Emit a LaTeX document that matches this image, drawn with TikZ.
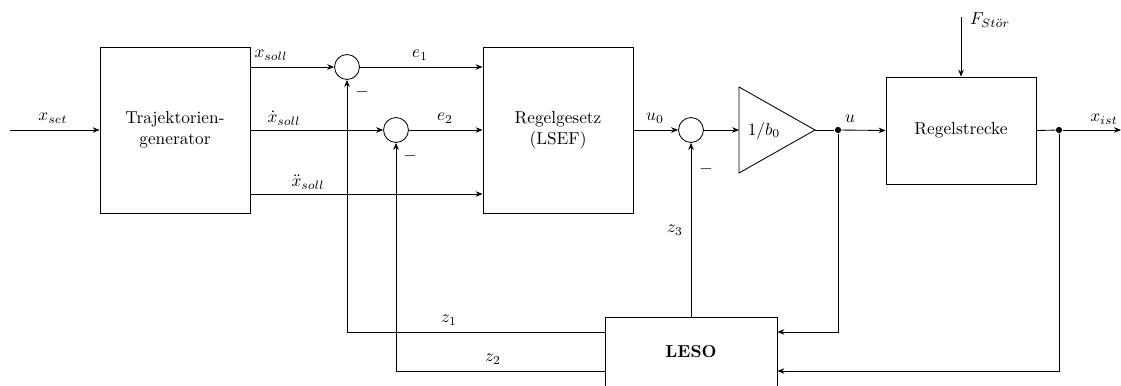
\documentclass[tikz,border=0pt]{standalone}
\usetikzlibrary{arrows.meta,calc}
\begin{document}
\begin{tikzpicture}[x=0.578pt,y=-0.578pt,line width=0.5pt,
  blk/.style={draw,rectangle,align=center,inner sep=0pt},
  sumc/.style={draw,circle,minimum size=14.4pt,inner sep=0pt},
  arr/.style={-{Stealth[length=4pt,width=3.2pt]}},
  lbl/.style={inner sep=0pt},
  jdot/.style={circle,fill,inner sep=0pt,minimum size=3.6pt}]
\useasboundingbox (0,0) rectangle (1121,385);
% blocks
\node[blk,minimum width=86.7pt,minimum height=96pt] (traj) at (175,130) {Trajektorien-\\generator};
\node[blk,minimum width=86.7pt,minimum height=96pt] (reg) at (558,130) {Regelgesetz\\(LSEF)};
\node[blk,minimum width=86.7pt,minimum height=61.8pt] (str) at (961,130.5) {Regelstrecke};
\node[blk,minimum width=99.4pt,minimum height=40.5pt] (leso) at (691,352) {\textbf{LESO}};
\node[sumc] (c1) at (347,67) {};
\node[sumc] (c2) at (396,130) {};
\node[sumc] (c3) at (691,130) {};
% gain triangle
\draw (739,87) -- (815,130) -- (739,173) -- cycle;
\node[lbl] (gain) at (764,131) {$1/b_0$};
\coordinate (gin) at (739,130);
\coordinate (gout) at (815,130);
\node[jdot] (d1) at (838,130) {};
\node[jdot] (d2) at (1059,130) {};
\coordinate (xin) at (10,130);
\coordinate (xout) at (1121,130);
\coordinate (fin) at (961,17);
\coordinate (dd) at (0,194);
\coordinate (y1) at (0,332);
\coordinate (y2) at (0,371);
% connectors
\draw[arr] (xin) -- (traj.west);
\draw[arr] (traj.east |- c1) -- (c1.west);
\draw[arr] (traj.east |- c2) -- (c2.west);
\draw[arr] (traj.east |- dd) -- (reg.west |- dd);
\draw[arr] (c1.east) -- (reg.west |- c1);
\draw[arr] (c2.east) -- (reg.west |- c2);
\draw[arr] (reg.east) -- (c3.west);
\draw[arr] (c3.east) -- (gin);
\draw (gout) -- (d1);
\draw[arr] (d1) -- (str.west);
\draw (str.east) -- (d2);
\draw[arr] (d2) -- (xout);
\draw[arr] (fin) -- (str.north);
\draw[arr] (d1) |- (leso.east |- y1);
\draw[arr] (d2) |- (leso.east |- y2);
\draw[arr] (leso.west |- y1) -| (c1.south);
\draw[arr] (leso.west |- y2) -| (c2.south);
\draw[arr] (leso.north) -- (c3.south);
% labels
\node[lbl] at (53,118) {$x_{set}$};
\node[lbl] at (271,55) {$x_{soll}$};
\node[lbl] at (284,118) {$\dot{x}_{soll}$};
\node[lbl] at (308,182) {$\ddot{x}_{soll}$};
\node[lbl] at (420,55) {$e_1$};
\node[lbl] at (445,118) {$e_2$};
\node[lbl] at (362,92) {$-$};
\node[lbl] at (410,156) {$-$};
\node[lbl] at (706,169) {$-$};
\node[lbl] at (655,118) {$u_0$};
\node[lbl] at (850,119) {$u$};
\node[lbl] at (1104,119) {$x_{ist}$};
\node[lbl] at (990,20) {$F_{St\ddot{o}r}$};
\node[lbl] at (449,320) {$z_1$};
\node[lbl] at (493,359) {$z_2$};
\node[lbl] at (675,230) {$z_3$};
\end{tikzpicture}
\end{document}
